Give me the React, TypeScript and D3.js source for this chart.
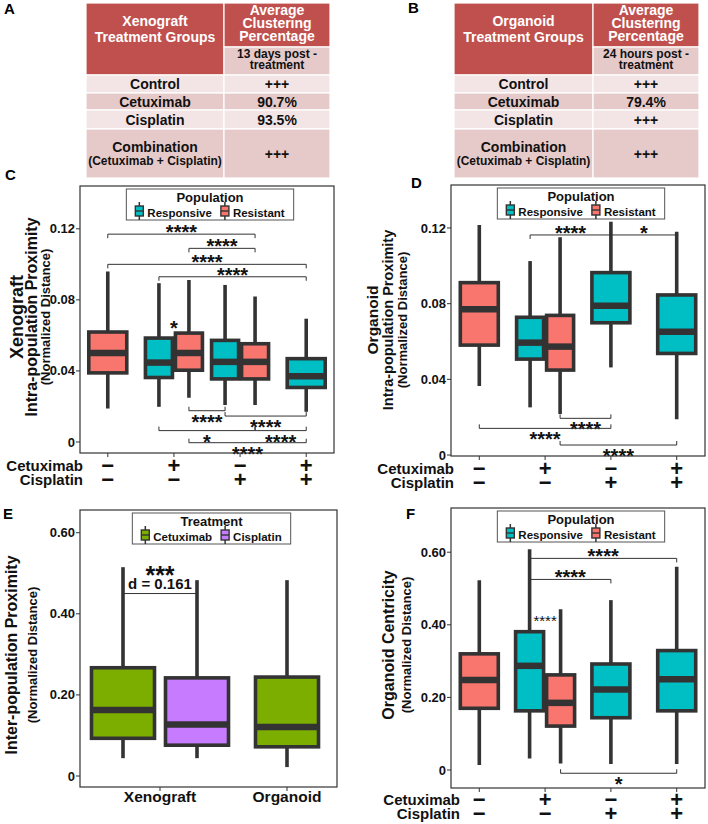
import React, { useEffect, useRef } from "react";
import * as d3 from "d3";

const FONT = '"Liberation Sans", Arial, Helvetica, sans-serif';
const INK = "#333333";

// ---- tables A / B ----
const treatmentGroups = ["Control", "Cetuximab", "Cisplatin", "Combination"];
const combinationNote = "(Cetuximab + Cisplatin)";
const xenograftClustering = ["+++", "90.7%", "93.5%", "+++"];
const organoidClustering = ["+++", "79.4%", "+++", "+++"];

// ---- shared categories ----
const conditions = ["ctrl", "cet", "cis", "combo"];
const cetuximabSigns = ["\u2212", "+", "\u2212", "+"];
const cisplatinSigns = ["\u2212", "\u2212", "+", "+"];
const populations = ["Responsive", "Resistant"];
const treatments = ["Cetuximab", "Cisplatin"];
const models = ["Xenograft", "Organoid"];
const proximityTicks = [0, 0.04, 0.08, 0.12];
const distanceTicks = [0, 0.2, 0.4, 0.6];

const popColors: Record<string, string> = { Responsive: "#00BFC4", Resistant: "#F8766D" };
const trtColors: Record<string, string> = { Cetuximab: "#7CAE00", Cisplatin: "#C77CFF" };

type Box = { x: string; grp: string; lo: number; q1: number; med: number; q3: number; hi: number };
type Bracket = { from: string; to: string; y: number; label: string; below?: boolean; note?: string };
type Mark = { x: string; y: number; label: string };

// C: xenograft intra-population proximity
const xenograftBoxes: Box[] = [
  { x: "ctrl", grp: "Resistant", lo: 0.0189, q1: 0.0389, med: 0.0501, q3: 0.0619, hi: 0.0959 },
  { x: "cet", grp: "Responsive", lo: 0.0198, q1: 0.0363, med: 0.0447, q3: 0.0585, hi: 0.0894 },
  { x: "cet", grp: "Resistant", lo: 0.0249, q1: 0.0404, med: 0.0501, q3: 0.0613, hi: 0.0912 },
  { x: "cis", grp: "Responsive", lo: 0.0208, q1: 0.0355, med: 0.0451, q3: 0.0572, hi: 0.0884 },
  { x: "cis", grp: "Resistant", lo: 0.0208, q1: 0.0355, med: 0.0451, q3: 0.0553, hi: 0.0819 },
  { x: "combo", grp: "Responsive", lo: 0.017, q1: 0.0307, med: 0.037, q3: 0.0469, hi: 0.0694 },
];
const xenograftBrackets: Bracket[] = [
  { from: "ctrl/Resistant", to: "cis/Resistant", y: 0.117, label: "****" },
  { from: "cet/Resistant", to: "cis/Resistant", y: 0.109, label: "****" },
  { from: "ctrl/Resistant", to: "combo/Responsive", y: 0.1, label: "****" },
  { from: "cet/Responsive", to: "combo/Responsive", y: 0.093, label: "****" },
  { from: "cet/Resistant", to: "cis/Responsive", y: 0.0176, label: "****", below: true },
  { from: "cis/Responsive", to: "combo/Responsive", y: 0.0146, label: "****", below: true },
  { from: "cet/Responsive", to: "cis/Resistant", y: 0.0064, label: "*", below: true },
  { from: "cis/Resistant", to: "combo/Responsive", y: 0.0064, label: "****", below: true },
  { from: "cet/Resistant", to: "combo/Responsive", y: -0.0004, label: "****", below: true },
];
const xenograftMarks: Mark[] = [{ x: "cet", y: 0.0667, label: "*" }];

// D: organoid intra-population proximity
const organoidBoxes: Box[] = [
  { x: "ctrl", grp: "Resistant", lo: 0.0365, q1: 0.0581, med: 0.077, q3: 0.0911, hi: 0.1216 },
  { x: "cet", grp: "Responsive", lo: 0.0252, q1: 0.0507, med: 0.0594, q3: 0.0728, hi: 0.1025 },
  { x: "cet", grp: "Resistant", lo: 0.0217, q1: 0.0449, med: 0.0573, q3: 0.0738, hi: 0.1151 },
  { x: "cis", grp: "Responsive", lo: 0.0463, q1: 0.0699, med: 0.0789, q3: 0.0964, hi: 0.1233 },
  { x: "combo", grp: "Responsive", lo: 0.0189, q1: 0.0537, med: 0.0652, q3: 0.0846, hi: 0.118 },
];
const organoidBrackets: Bracket[] = [
  { from: "cet/Responsive", to: "cis/Responsive", y: 0.1163, label: "****" },
  { from: "cis/Responsive", to: "combo/Responsive", y: 0.1163, label: "*" },
  { from: "cet/Resistant", to: "cis/Responsive", y: 0.0194, label: "****", below: true },
  { from: "ctrl/Resistant", to: "cis/Responsive", y: 0.0141, label: "****", below: true },
  { from: "cet/Resistant", to: "combo/Responsive", y: 0.0053, label: "****", below: true },
];

// E: inter-population proximity
const interBoxes: Box[] = [
  { x: "Xenograft", grp: "Cetuximab", lo: 0.044, q1: 0.093, med: 0.163, q3: 0.267, hi: 0.515 },
  { x: "Xenograft", grp: "Cisplatin", lo: 0.044, q1: 0.076, med: 0.127, q3: 0.242, hi: 0.483 },
  { x: "Organoid", grp: "Cetuximab", lo: 0.022, q1: 0.072, med: 0.121, q3: 0.244, hi: 0.483 },
];
const interBrackets: Bracket[] = [
  { from: "Xenograft/Cetuximab", to: "Xenograft/Cisplatin", y: 0.45, label: "***", note: "d = 0.161" },
];

// F: organoid centricity
const centricityBoxes: Box[] = [
  { x: "ctrl", grp: "Resistant", lo: 0.014, q1: 0.17, med: 0.248, q3: 0.32, hi: 0.523 },
  { x: "cet", grp: "Responsive", lo: 0.032, q1: 0.163, med: 0.287, q3: 0.381, hi: 0.608 },
  { x: "cet", grp: "Resistant", lo: 0.018, q1: 0.121, med: 0.185, q3: 0.262, hi: 0.443 },
  { x: "cis", grp: "Responsive", lo: 0.0165, q1: 0.144, med: 0.222, q3: 0.292, hi: 0.468 },
  { x: "combo", grp: "Responsive", lo: 0.0165, q1: 0.163, med: 0.25, q3: 0.329, hi: 0.56 },
];
const centricityBrackets: Bracket[] = [
  { from: "cet/Responsive", to: "combo/Responsive", y: 0.583, label: "****" },
  { from: "cet/Responsive", to: "cis/Responsive", y: 0.525, label: "****" },
  { from: "cet/Resistant", to: "combo/Responsive", y: -0.009, label: "*", below: true },
];
const centricityMarks: Mark[] = [{ x: "cet", y: 0.419, label: "****" }];

const txt = (g: any, x: number, y: number, s: string, size: number, opts: any = {}) =>
  g
    .append("text")
    .attr("x", x)
    .attr("y", y)
    .attr("text-anchor", opts.anchor || "middle")
    .attr("fill", opts.fill || "#111")
    .style("font-family", FONT)
    .style("font-size", size + "px")
    .style("font-weight", opts.weight || "bold")
    .text(s);

function drawTable(svg: any, t: any) {
  const g = svg.append("g");
  const { x0, xd, x1 } = t;
  const red = "#C0504D";
  const dark = "#E6CACA";
  const light = "#F3E5E5";
  const cell = (x: number, y: number, w: number, h: number, fill: string) =>
    g.append("rect").attr("x", x).attr("y", y).attr("width", w).attr("height", h)
      .attr("fill", fill).attr("stroke", "#fff").attr("stroke-width", 1.2);
  cell(x0, 3, xd - x0, 72, red);
  cell(xd, 3, x1 - xd, 44, red);
  cell(xd, 47, x1 - xd, 28, dark);
  const lc = (x0 + xd) / 2;
  const rc = (xd + x1) / 2;
  txt(g, lc, 26, t.model, 14, { fill: "#fff" });
  txt(g, lc, 42, "Treatment Groups", 14, { fill: "#fff" });
  ["Average", "Clustering", "Percentage"].forEach((s, i) => txt(g, rc, 15 + i * 13, s, 14, { fill: "#fff" }));
  txt(g, rc, 58, t.when, 12);
  txt(g, rc, 69, "treatment", 12);

  const edges = [75, 93, 110, 129, 178];
  treatmentGroups.forEach((name, i) => {
    const ya = edges[i];
    const yb = edges[i + 1];
    const fill = i % 2 === 0 ? light : dark;
    cell(x0, ya, xd - x0, yb - ya, fill);
    cell(xd, ya, x1 - xd, yb - ya, fill);
    const mid = (ya + yb) / 2;
    if (name === "Combination") {
      txt(g, lc, mid - 2, name, 14);
      txt(g, lc, mid + 11, combinationNote, 12);
    } else {
      txt(g, lc, mid + 5, name, 14);
    }
    txt(g, rc, mid + 5, t.values[i], 14);
  });
}

function drawKey(g: any, cx: number, cy: number, fill: string) {
  g.append("line").attr("x1", cx).attr("x2", cx).attr("y1", cy - 9).attr("y2", cy + 9)
    .attr("stroke", INK).attr("stroke-width", 1.5);
  g.append("rect").attr("x", cx - 4).attr("y", cy - 5).attr("width", 8).attr("height", 10)
    .attr("fill", fill).attr("stroke", INK).attr("stroke-width", 1.4);
  g.append("line").attr("x1", cx - 4).attr("x2", cx + 4).attr("y1", cy).attr("y2", cy)
    .attr("stroke", INK).attr("stroke-width", 1.4);
}

function drawLegend(g: any, cx: number, top: number, title: string, items: string[], colors: Record<string, string>) {
  const lg = g.append("g");
  const frame = lg.append("rect");
  const tt = txt(lg, cx, top + 13, title, 13);
  const labels = items.map((it) => txt(lg, 0, top + 28, it, 11.5, { anchor: "start" }));
  const widths = labels.map((l: any) => l.node().getComputedTextLength());
  const keyW = 8, gap = 4, itemGap = 9;
  const total = d3.sum(widths) + items.length * (keyW + gap) + itemGap * (items.length - 1);
  let xx = cx - total / 2;
  items.forEach((it, i) => {
    drawKey(lg, xx + keyW / 2, top + 22, colors[it]);
    labels[i].attr("x", xx + keyW + gap);
    xx += keyW + gap + widths[i] + itemGap;
  });
  const w = Math.max(total, tt.node().getComputedTextLength()) + 18;
  frame.attr("x", cx - w / 2).attr("y", top).attr("width", w).attr("height", 31)
    .attr("fill", "#fff").attr("stroke", "#555").attr("stroke-width", 1);
}

function drawPanel(svg: any, p: any) {
  const g = svg.append("g");
  const y = d3.scaleLinear().domain(p.domain).range([p.bottom, p.top]);
  const x = d3.scalePoint<string>().domain(p.cats).range(p.xRange).padding(p.pad);
  const perCat = d3.group(p.boxes as Box[], (d) => d.x);
  const isPair = (cat: string) => (perCat.get(cat) || []).length > 1;
  const cx = (cat: string, grp: string) =>
    isPair(cat) ? x(cat)! + (p.groups.indexOf(grp) === 0 ? -p.dodge : p.dodge) : x(cat)!;

  g.append("rect").attr("x", p.left).attr("y", p.top).attr("width", p.right - p.left)
    .attr("height", p.bottom - p.top).attr("fill", "#fff");

  (p.boxes as Box[]).forEach((b) => {
    const c = cx(b.x, b.grp);
    const w = isPair(b.x) ? p.pairW : p.singleW;
    g.append("line").attr("x1", c).attr("x2", c).attr("y1", y(b.hi)).attr("y2", y(b.lo))
      .attr("stroke", INK).attr("stroke-width", 3.6);
    g.append("rect").attr("x", c - w / 2).attr("y", y(b.q3)).attr("width", w)
      .attr("height", y(b.q1) - y(b.q3)).attr("fill", p.colors[b.grp])
      .attr("stroke", INK).attr("stroke-width", 3.6);
    g.append("line").attr("x1", c - w / 2).attr("x2", c + w / 2).attr("y1", y(b.med)).attr("y2", y(b.med))
      .attr("stroke", INK).attr("stroke-width", 6.5);
  });

  (p.brackets as Bracket[]).forEach((br) => {
    const [c1, g1] = br.from.split("/");
    const [c2, g2] = br.to.split("/");
    const xa = cx(c1, g1);
    const xb = cx(c2, g2);
    const yy = y(br.y);
    const t = br.below ? -4 : 4;
    g.append("path").attr("d", `M${xa},${yy + t}V${yy}H${xb}V${yy + t}`)
      .attr("fill", "none").attr("stroke", INK).attr("stroke-width", 1);
    const mid = (xa + xb) / 2;
    if (br.note) {
      txt(g, mid, yy - 4.5, br.note, 15);
      txt(g, mid, yy - 23 + 0.553 * p.starSize, br.label, p.starSize);
    } else if (br.below) {
      txt(g, mid, yy + 7 + 0.553 * p.starSize, br.label, p.starSize);
    } else {
      txt(g, mid, yy - 6 + 0.553 * p.starSize, br.label, p.starSize);
    }
  });

  (p.marks || []).forEach((m: Mark) => {
    txt(g, x(m.x)!, y(m.y) + 0.553 * p.markSize, m.label, p.markSize, { weight: p.markWeight });
  });

  drawLegend(g, (p.left + p.right) / 2 + 3, p.top + 3, p.legendTitle, p.groups, p.colors);

  g.append("rect").attr("x", p.left).attr("y", p.top).attr("width", p.right - p.left)
    .attr("height", p.bottom - p.top).attr("fill", "none").attr("stroke", INK).attr("stroke-width", 1.2);

  // y axis
  (p.ticks as number[]).forEach((v) => {
    g.append("line").attr("x1", p.left - 4).attr("x2", p.left).attr("y1", y(v)).attr("y2", y(v))
      .attr("stroke", INK).attr("stroke-width", 1);
    txt(g, p.left - 5, y(v), p.tickFormat(v), 13, { anchor: "end" }).attr("dy", "0.35em");
  });
  // x ticks
  p.cats.forEach((c: string) => {
    g.append("line").attr("x1", x(c)!).attr("x2", x(c)!).attr("y1", p.bottom).attr("y2", p.bottom + 4)
      .attr("stroke", INK).attr("stroke-width", 1);
  });

  // y titles
  p.titles.forEach((t: any) => {
    g.append("text").attr("transform", `translate(${t.x},${p.titleY}) rotate(-90)`)
      .attr("text-anchor", "middle").attr("fill", "#111")
      .style("font-family", FONT).style("font-size", t.fs + "px").style("font-weight", "bold")
      .text(t.text);
  });

  if (p.signRows) {
    const rows = [
      { name: "Cetuximab", signs: cetuximabSigns },
      { name: "Cisplatin", signs: cisplatinSigns },
    ];
    rows.forEach((r, i) => {
      const cy = p.signRows[i];
      txt(g, p.rowLabelRight, cy + 6, r.name, 15, { anchor: "end" });
      p.cats.forEach((c: string, j: number) => {
        txt(g, x(c)!, cy, r.signs[j], 22).attr("dominant-baseline", "central");
      });
    });
  } else {
    p.cats.forEach((c: string) => txt(g, x(c)!, p.catLabelY, c, 15.5));
  }
}

const App = () => {
  const ref = useRef<SVGSVGElement>(null);

  useEffect(() => {
    const svg = d3.select(ref.current);
    svg.selectAll("*").remove();

    drawTable(svg, { x0: 86, xd: 224, x1: 330, model: "Xenograft", when: "13 days post -", values: xenograftClustering });
    drawTable(svg, { x0: 454, xd: 593, x1: 699, model: "Organoid", when: "24 hours post -", values: organoidClustering });

    const fmt2 = (v: number) => (v === 0 ? "0" : v.toFixed(2));

    drawPanel(svg, {
      left: 80, right: 334, top: 186, bottom: 453,
      domain: [-0.0062, 0.1441], ticks: proximityTicks, tickFormat: fmt2,
      cats: conditions, xRange: [80, 334], pad: 0.42,
      boxes: xenograftBoxes, brackets: xenograftBrackets, marks: xenograftMarks,
      markSize: 20, markWeight: "bold", starSize: 20,
      groups: populations, colors: popColors, legendTitle: "Population",
      dodge: 15, pairW: 27, singleW: 38,
      titles: [
        { text: "Xenograft", fs: 18, x: 23 },
        { text: "Intra-population Proximity", fs: 16, x: 36.5 },
        { text: "(Normalized Distance)", fs: 13, x: 49.5 },
      ],
      titleY: 317, signRows: [465, 479], rowLabelRight: 83,
    });

    drawPanel(svg, {
      left: 451, right: 705, top: 185, bottom: 456,
      domain: [-0.0005, 0.1427], ticks: proximityTicks, tickFormat: fmt2,
      cats: conditions, xRange: [451, 705], pad: 0.43,
      boxes: organoidBoxes, brackets: organoidBrackets, starSize: 20,
      groups: populations, colors: popColors, legendTitle: "Population",
      dodge: 15, pairW: 27, singleW: 38,
      titles: [
        { text: "Organoid", fs: 15.5, x: 378 },
        { text: "Intra-population Proximity", fs: 14.5, x: 392.5 },
        { text: "(Normalized Distance)", fs: 13, x: 406.5 },
      ],
      titleY: 320, signRows: [468, 482], rowLabelRight: 454,
    });

    drawPanel(svg, {
      left: 80, right: 337, top: 510, bottom: 787,
      domain: [-0.0271, 0.656], ticks: distanceTicks, tickFormat: fmt2,
      cats: models, xRange: [160, 287], pad: 0,
      boxes: interBoxes, brackets: interBrackets, starSize: 25,
      groups: treatments, colors: trtColors, legendTitle: "Treatment",
      dodge: 37, pairW: 63, singleW: 63,
      titles: [
        { text: "Inter-population Proximity", fs: 16, x: 17 },
        { text: "(Normalized Distance)", fs: 13, x: 36.5 },
      ],
      titleY: 655, catLabelY: 802,
    });

    drawPanel(svg, {
      left: 451, right: 705, top: 508, bottom: 788,
      domain: [-0.0496, 0.7218], ticks: distanceTicks, tickFormat: fmt2,
      cats: conditions, xRange: [451, 705], pad: 0.43,
      boxes: centricityBoxes, brackets: centricityBrackets, marks: centricityMarks,
      markSize: 15, markWeight: "normal", starSize: 20,
      groups: populations, colors: popColors, legendTitle: "Population",
      dodge: 15.5, pairW: 28, singleW: 38,
      titles: [
        { text: "Organoid Centricity", fs: 16, x: 393.5 },
        { text: "(Normalized Distance)", fs: 13, x: 410.5 },
      ],
      titleY: 645, signRows: [799, 813], rowLabelRight: 460,
    });

    // panel letters
    [
      ["A", 4, 14], ["B", 408, 13], ["C", 5, 180],
      ["D", 411, 188], ["E", 3, 519], ["F", 406, 519],
    ].forEach(([l, lx, ly]) => txt(svg, lx as number, ly as number, l as string, 15, { anchor: "start", fill: "#000" }));
  }, []);

  return (
    <svg
      ref={ref}
      width={708}
      height={824}
      style={{ position: "absolute", left: 0, top: 0, background: "#fff" }}
    />
  );
};

export default App;
